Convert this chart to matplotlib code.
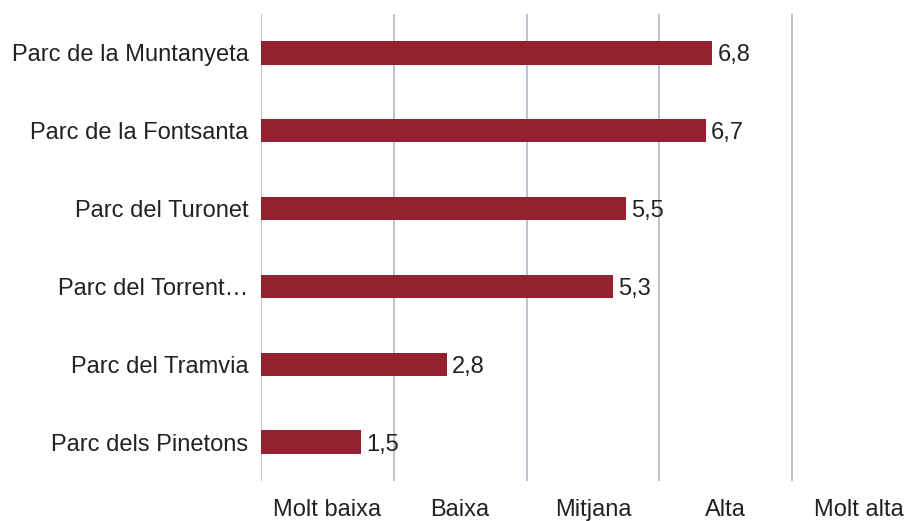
import matplotlib.pyplot as plt

plt.rcParams['font.family'] = ['Liberation Sans', 'DejaVu Sans']

parks = ['Parc de la Muntanyeta', 'Parc de la Fontsanta', 'Parc del Turonet',
         'Parc del Torrent…', 'Parc del Tramvia', 'Parc dels Pinetons']
scores = [6.8, 6.7, 5.5, 5.3, 2.8, 1.5]
levels = ['Molt baixa', 'Baixa', 'Mitjana', 'Alta', 'Molt alta']
level_pos = [1, 3, 5, 7, 9]

fig = plt.figure(figsize=(9.14, 5.21), dpi=100)
ax = fig.add_axes([261 / 914, 40 / 521, 652 / 914, 467 / 521])

y = list(range(len(parks)))
bars = ax.barh(y, scores, height=0.3, color='#93212f', zorder=3)
for b, v in zip(bars, scores):
    ax.text(b.get_width() + 0.08, b.get_y() + b.get_height() / 2,
            f'{v:.1f}'.replace('.', ','), va='center_baseline', ha='left',
            fontsize=17, color='#222222', zorder=4)

ax.set_xlim(0, 9.82)
ax.set_ylim(len(parks) - 0.5, -0.5)
ax.set_yticks(y)
ax.set_yticklabels(parks, fontsize=17, color='#222222')

# vertical guides at every other unit
for gx in [0, 2, 4, 6, 8]:
    ax.axvline(gx, color='#bcc5cd', lw=1.4, zorder=1)

ax.set_xticks(level_pos)
ax.set_xticklabels(levels, fontsize=17, color='#222222')
ax.tick_params(axis='both', length=0)
ax.tick_params(axis='x', pad=13)
ax.tick_params(axis='y', pad=9)
for s in ax.spines.values():
    s.set_visible(False)

fig.savefig('out.png', dpi=100)
